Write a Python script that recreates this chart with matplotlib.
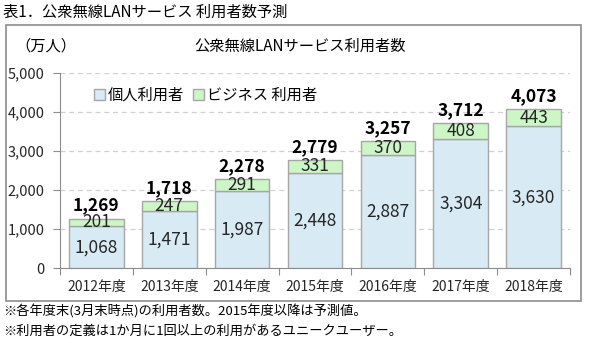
import matplotlib
matplotlib.use("Agg")
import matplotlib.pyplot as plt
from matplotlib.patches import Patch, Rectangle

plt.rcParams['font.family'] = ['Noto Sans CJK JP', 'DejaVu Sans']

years = ['2012年度', '2013年度', '2014年度', '2015年度', '2016年度', '2017年度', '2018年度']
personal = [1068, 1471, 1987, 2448, 2887, 3304, 3630]
business = [201, 247, 291, 331, 370, 408, 443]
totals = [1269, 1718, 2278, 2779, 3257, 3712, 4073]

blue = '#D8EAF3'
green = '#CCF6C6'
edge = '#A6A6A6'

W, H = 591, 343
fig = plt.figure(figsize=(W / 100, H / 100), dpi=100)

# outer frame of the chart area
fig.patches.append(Rectangle((6 / W, 1 - 301 / H), 575 / W, 276 / H, transform=fig.transFigure,
                             fill=False, edgecolor='#8C8C8C', linewidth=1.2))

ax = fig.add_axes([60 / W, 1 - 268 / H, 510 / W, 195 / H])
x = range(len(years))
ax.bar(x, personal, width=0.75, color=blue, edgecolor=edge, linewidth=1, zorder=3)
ax.bar(x, business, width=0.75, bottom=personal, color=green, edgecolor=edge, linewidth=1, zorder=3)

for i in x:
    ax.text(i, personal[i] / 2, f'{personal[i]:,}', ha='center', va='center', fontsize=12.5, color='#262626', zorder=4)
    ax.text(i, personal[i] + business[i] / 2, f'{business[i]:,}', ha='center', va='center', fontsize=12.5,
            color='#262626', zorder=4)
    ax.text(i, totals[i] + 100, f'{totals[i]:,}', ha='center', va='bottom', fontsize=12.5,
            fontweight='bold', color='black', zorder=4)

ax.set_xlim(-0.5, len(years) - 0.5)
ax.set_ylim(0, 5000)
ax.set_yticks(range(0, 5001, 1000))
ax.set_yticklabels([f'{v:,}' for v in range(0, 5001, 1000)], fontsize=10.5, color='#262626')
ax.yaxis.grid(True, linestyle=(0, (4, 3)), color='#D0D0D0', linewidth=0.9, zorder=0)

# category labels sit between the tick marks
ax.set_xticks([i - 0.5 for i in range(len(years) + 1)])
ax.set_xticklabels([])
ax.set_xticks(list(x), minor=True)
ax.set_xticklabels(years, minor=True, fontsize=10, color='#262626')
ax.tick_params(axis='x', which='major', length=5, color='#8C8C8C', direction='out')
ax.tick_params(axis='x', which='minor', length=0, pad=9)
ax.tick_params(axis='y', length=5, color='#8C8C8C', pad=6)

for s in ['top', 'right']:
    ax.spines[s].set_visible(False)
ax.spines['left'].set_color('#8C8C8C')
ax.spines['bottom'].set_color('#8C8C8C')

handles = [Patch(facecolor=blue, edgecolor=edge, label='個人利用者'),
           Patch(facecolor=green, edgecolor=edge, label='ビジネス 利用者')]
ax.legend(handles=handles, loc='upper left', bbox_to_anchor=(0.04, 1.0), ncol=2, frameon=False,
          fontsize=11, handlelength=0.7, handleheight=0.7, handletextpad=0.2, columnspacing=0.6)

fig.text(3 / W, 1 - 12 / H, '表1．公衆無線LANサービス 利用者数予測', fontsize=11, va='center', ha='left')
fig.text(15 / W, 1 - 46 / H, '（万人）', fontsize=11, va='center', ha='left')
fig.text(300 / W, 1 - 46 / H, '公衆無線LANサービス利用者数', fontsize=11, va='center', ha='center')
fig.text(3 / W, 1 - 312 / H, '※各年度末(3月末時点)の利用者数。2015年度以降は予測値。', fontsize=9.5, va='center', ha='left')
fig.text(3 / W, 1 - 331 / H, '※利用者の定義は1か月に1回以上の利用があるユニークユーザー。', fontsize=9.5, va='center', ha='left')

fig.savefig('out.png', dpi=100)
